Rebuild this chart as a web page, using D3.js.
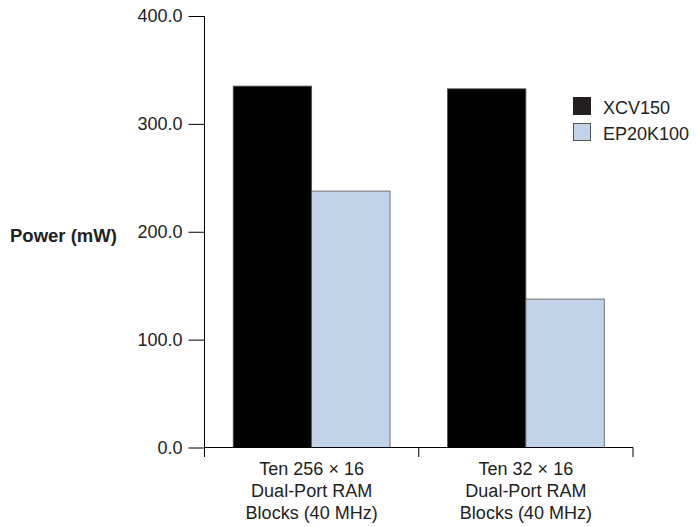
<!DOCTYPE html>
<html><head><meta charset="utf-8">
<script src="https://cdn.jsdelivr.net/npm/d3@7"></script>
<style>body{margin:0;background:#fff}text{font-family:"Liberation Sans",Arial,sans-serif}</style>
</head><body><svg id="c" width="697" height="527"></svg>
<script>
const categories = [["Ten 256 \u00d7 16","Dual-Port RAM","Blocks (40 MHz)"],["Ten 32 \u00d7 16","Dual-Port RAM","Blocks (40 MHz)"]];
const series = ["XCV150","EP20K100"];
const xcv150 = [335, 332.5];
const ep20k100 = [237.7, 137.6];
const yTicks = [0,100,200,300,400];
const colors = ["#000000","#c1d3e8"];

const FS = 18;
const svg = d3.select("#c");
const x0 = d3.scaleBand().domain([0,1]).range([204.5,633]).paddingInner(0).paddingOuter(0);
const y = d3.scaleLinear().domain([0,400]).range([447.5,16]);
const x1 = d3.scaleBand().domain(series).range([0, x0.bandwidth()]).paddingInner(0).paddingOuter(0.366);
const vals = [xcv150, ep20k100];

const g = svg.append("g");
categories.forEach((c,i)=>{
  series.forEach((s,j)=>{
    g.append("rect").attr("x",x0(i)+x1(s)).attr("y",y(vals[j][i]))
     .attr("width",x1.bandwidth()).attr("height",y(0)-y(vals[j][i]))
     .attr("fill",colors[j]).attr("stroke","#555").attr("stroke-width",0.8);
  });
});

// y axis
const ya = svg.append("g").attr("transform","translate(204.5,0)")
  .call(d3.axisLeft(y).tickValues(yTicks).tickFormat(d3.format(".1f")).tickSizeInner(16).tickSizeOuter(0).tickPadding(6));
ya.attr("font-size",FS).attr("font-family","Liberation Sans, Arial, sans-serif");
ya.select(".domain").remove();
ya.append("line").attr("x1",0).attr("x2",0).attr("y1",16).attr("y2",457).attr("stroke","#000");
ya.selectAll("text").attr("fill","#222");
ya.selectAll(".tick line").attr("stroke","#000");

// x axis
svg.append("line").attr("x1",204.5).attr("x2",633).attr("y1",447.5).attr("y2",447.5).attr("stroke","#000");
[0,1].forEach(i=>{
  svg.append("line").attr("x1",x0(i)+x0.bandwidth()).attr("x2",x0(i)+x0.bandwidth()).attr("y1",447.5).attr("y2",457).attr("stroke","#000");
});
categories.forEach((c,i)=>{
  const t = svg.append("text").attr("text-anchor","middle").attr("font-size",FS).attr("fill","#222");
  c.forEach((line,k)=>{
    t.append("tspan").attr("x",x0(i)+x0.bandwidth()/2).attr("y",475+k*22).text(line);
  });
});

// y title
svg.append("text").attr("x",10).attr("y",242).attr("font-size",18.5).attr("font-weight","bold").attr("fill","#222").text("Power (mW)");

// legend
series.forEach((s,j)=>{
  svg.append("rect").attr("x",573.5).attr("y",97.5+j*26).attr("width",17).attr("height",17)
    .attr("fill", j===0?"#231f20":colors[j]).attr("stroke", j===0?"#231f20":"#555").attr("stroke-width",1);
  svg.append("text").attr("x",603).attr("y",114+j*26).attr("font-size",FS).attr("fill","#222").text(s);
});
</script></body></html>
